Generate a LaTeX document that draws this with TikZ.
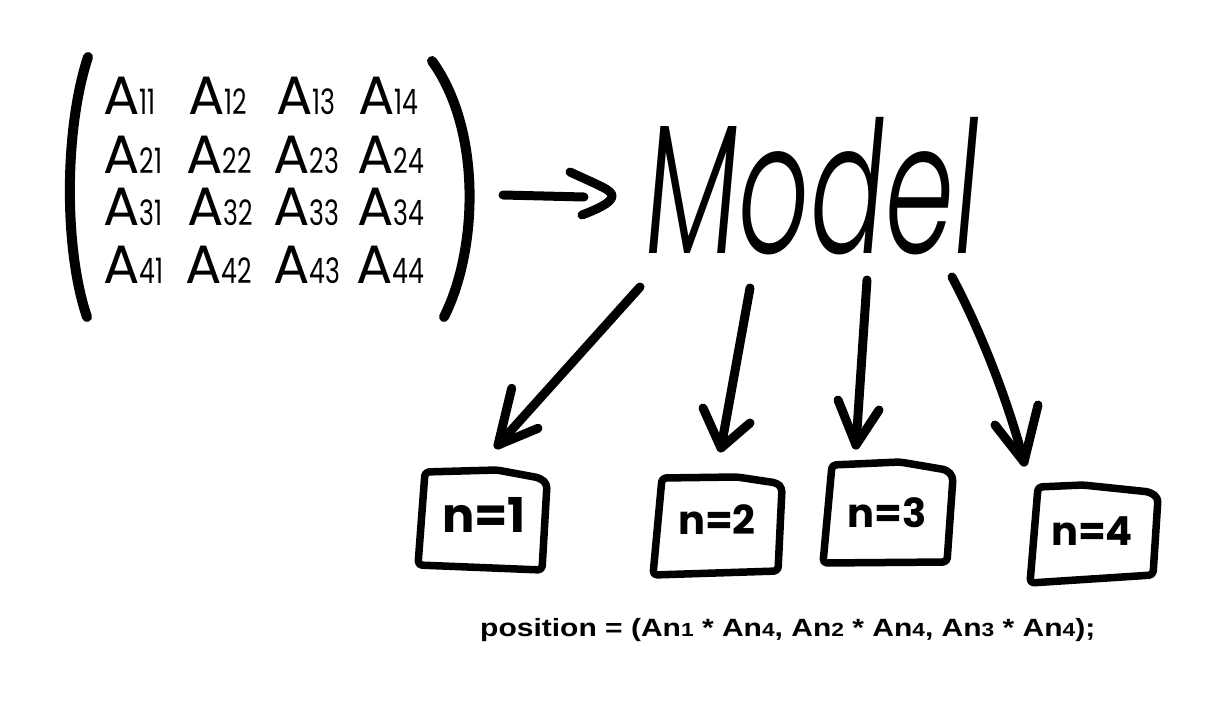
\documentclass[tikz,border=0pt]{standalone}
\usepackage{fontspec}
\usepackage{graphicx}
\setmainfont{Poppins}
\newfontfamily\handfont[FakeSlant=0.15]{Poppins Light}
\newfontfamily\arialfont{Liberation Sans}
\newcommand\ent[1]{A\scalebox{0.72}[1]{\fontsize{35}{35}\selectfont #1}}
\newcommand\dg[1]{{\fontsize{19}{19}\selectfont #1}}
\begin{document}
\begin{tikzpicture}[x=1pt,y=-1pt,
  ink/.style={line width=9, line cap=round, line join=round},
  parenline/.style={line width=10, line cap=round},
  boxline/.style={line width=7.5, line cap=round, line join=round, rounded corners=4},
  entry/.style={anchor=base west, inner sep=0, font=\fontsize{54}{54}\selectfont},
  boxlabel/.style={anchor=base, inner sep=0, font=\bfseries\fontsize{40}{40}\selectfont},
]
\useasboundingbox[fill=white] (0,0) rectangle (1229,706);

% parentheses
\draw[parenline] (88,57) .. controls (64,130) and (64,250) .. (87,317);
\draw[parenline] (432,61) .. controls (482,130) and (478,250) .. (444,317);

% matrix entries
\node[entry] (m11) at (103,115) {\ent{11}};
\node[entry] (m12) at (188,115) {\ent{12}};
\node[entry] (m13) at (276,115) {\ent{13}};
\node[entry] (m14) at (358,115) {\ent{14}};
\node[entry] (m21) at (103,173) {\ent{21}};
\node[entry] (m22) at (186,173) {\ent{22}};
\node[entry] (m23) at (273,173) {\ent{23}};
\node[entry] (m24) at (357,173) {\ent{24}};
\node[entry] (m31) at (103,225) {\ent{31}};
\node[entry] (m32) at (187,225) {\ent{32}};
\node[entry] (m33) at (273,225) {\ent{33}};
\node[entry] (m34) at (357,225) {\ent{34}};
\node[entry] (m41) at (103,283) {\ent{41}};
\node[entry] (m42) at (185,283) {\ent{42}};
\node[entry] (m43) at (273,283) {\ent{43}};
\node[entry] (m44) at (356,283) {\ent{44}};

% main arrow to model
\coordinate (a0) at (503,195);
\coordinate (a1) at (584,197);
\draw[ink] (a0) -- (a1);
\draw[ink] (570,172) .. controls (600,186) and (612,190) .. (612,196) .. controls (612,203) and (595,210) .. (582,215);

% model
\node[anchor=base west, inner sep=0] (model) at (640,253) {\resizebox{335pt}{136pt}{\handfont Model}};

% arrow coordinates
\coordinate (s1) at (640,287);
\coordinate (t1) at (498,445);
\coordinate (s2) at (750,288);
\coordinate (t2) at (721,448);
\coordinate (s3) at (867,280);
\coordinate (t3) at (856,445);
\coordinate (s4) at (952,277);
\coordinate (t4) at (1024,462);

\draw[ink] (s1) -- (t1);
\draw[ink] ([shift={(13.7,-56.7)}]t1) -- (t1) -- ([shift={(40,-16.7)}]t1);
\draw[ink] (s2) -- (t2);
\draw[ink] ([shift={(-18,-40)}]t2) -- (t2) -- ([shift={(29,-25)}]t2);
\draw[ink] (s3) -- (t3);
\draw[ink] ([shift={(-18,-45)}]t3) -- (t3) -- ([shift={(23,-35)}]t3);
\draw[ink] (s4) .. controls (975,320) and (1005,390) .. (t4);
\draw[ink] ([shift={(-29,-37)}]t4) -- (t4) -- ([shift={(14,-57)}]t4);

% boxes
\node[boxlabel, font=\bfseries\fontsize{48}{48}\selectfont] (b1) at (484,532) {n=1};
\draw[boxline] (425,472) -- (497,470) -- (540,478) -- (547,484) -- (542,570) -- (418,565) -- cycle;
\node[boxlabel] (b2) at (717,534) {n=2};
\draw[boxline] (662,478) -- (737,477) -- (777,483) -- (782,488) -- (778,571) -- (653,575) -- cycle;
\node[boxlabel] (b3) at (887,527) {n=3};
\draw[boxline] (832,465) -- (900,462) -- (947,470) -- (953,477) -- (947,562) -- (823,563) -- cycle;
\node[boxlabel] (b4) at (1092,545) {n=4};
\draw[boxline] (1038,487) -- (1083,485) -- (1150,492) -- (1158,498) -- (1153,575) -- (1030,583) -- cycle;

% formula
\node[anchor=base west, inner sep=0] (pos) at (480,636)
  {\scalebox{1.2}[1]{\arialfont\bfseries\fontsize{25}{25}\selectfont position = (An\dg{1} * An\dg{4}, An\dg{2} * An\dg{4}, An\dg{3} * An\dg{4});}};
\end{tikzpicture}
\end{document}
